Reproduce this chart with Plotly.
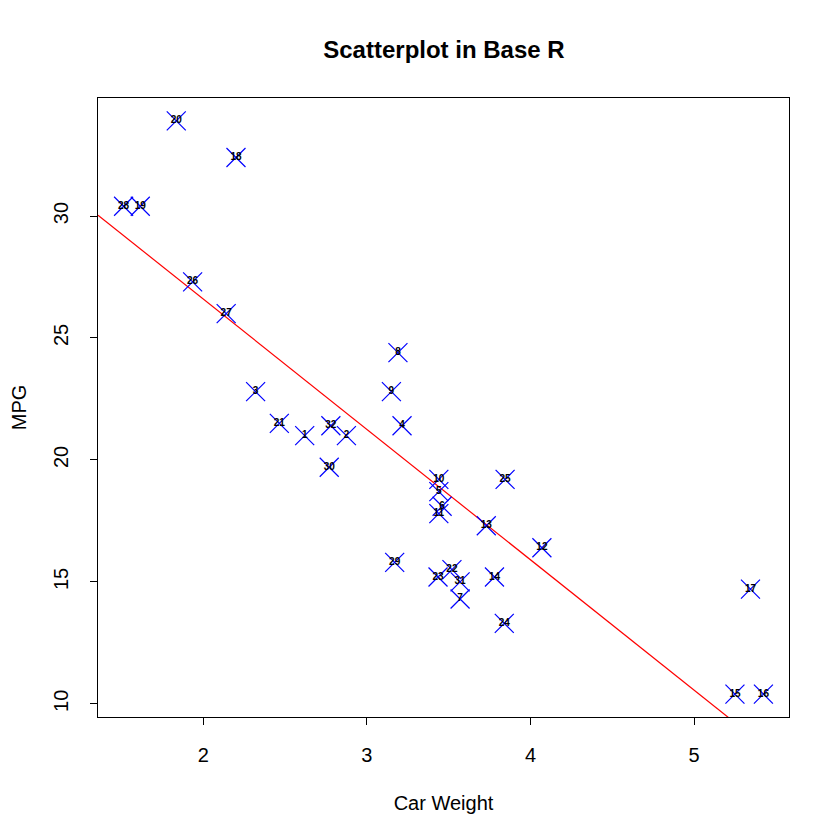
import numpy as np
import plotly.graph_objects as go

# mtcars: weight (1000 lbs) and miles per gallon, row numbers as labels
car_weight = [2.620, 2.875, 2.320, 3.215, 3.440, 3.460, 3.570, 3.190, 3.150, 3.440,
              3.440, 4.070, 3.730, 3.780, 5.250, 5.424, 5.345, 2.200, 1.615, 1.835,
              2.465, 3.520, 3.435, 3.840, 3.845, 1.935, 2.140, 1.513, 3.170, 2.770,
              3.570, 2.780]
mpg = [21.0, 21.0, 22.8, 21.4, 18.7, 18.1, 14.3, 24.4, 22.8, 19.2,
       17.8, 16.4, 17.3, 15.2, 10.4, 10.4, 14.7, 32.4, 30.4, 33.9,
       21.5, 15.5, 15.2, 13.3, 19.2, 27.3, 26.0, 30.4, 15.8, 19.7,
       15.0, 21.4]
labels = [str(i + 1) for i in range(len(mpg))]

x_ticks = [2, 3, 4, 5]
y_ticks = [10, 15, 20, 25, 30]

# R-style axis limits: data range padded by 4% on each side
def r_range(v):
    lo, hi = min(v), max(v)
    pad = (hi - lo) * 0.04
    return [lo - pad, hi + pad]

x_range = r_range(car_weight)
y_range = r_range(mpg)

# abline(lm(mpg ~ wt))
slope, intercept = np.polyfit(car_weight, mpg, 1)
line_x = np.array(x_range)
line_y = intercept + slope * line_x

fig = go.Figure()

fig.add_trace(go.Scatter(
    x=line_x, y=line_y, mode='lines',
    line=dict(color='red', width=1.2),
    hoverinfo='skip', showlegend=False))

fig.add_trace(go.Scatter(
    x=car_weight, y=mpg, mode='markers+text',
    text=labels, textposition='middle center',
    textfont=dict(family='Liberation Sans', size=10, color='black', weight='bold'),
    marker=dict(symbol='x-thin-open', size=19, color='blue',
                line=dict(color='blue', width=1.2)),
    showlegend=False))

axis_style = dict(showline=True, linecolor='black', linewidth=1, mirror=True,
                  ticks='outside', ticklen=7, tickcolor='black', showgrid=False,
                  zeroline=False, tickfont=dict(size=20, color='black'))

fig.update_xaxes(range=x_range, tickmode='array', tickvals=x_ticks, ticklabelstandoff=13,
                 title=dict(text='Car Weight', font=dict(size=20, color='black'), standoff=30),
                 **axis_style)
fig.update_yaxes(range=y_range, tickmode='array', tickvals=y_ticks, tickangle=-90,
                 ticklabelstandoff=14,
                 title=dict(text='MPG', font=dict(size=20, color='black'), standoff=24),
                 **axis_style)

# page body adds an 8px offset, so margins are shifted to compensate
fig.update_layout(
    width=840, height=840,
    margin=dict(l=90, r=59, t=90, b=131, autoexpand=False),
    paper_bgcolor='white', plot_bgcolor='white',
    font=dict(family='Liberation Sans'),
    title=dict(text='<b>Scatterplot in Base R</b>', x=0.519, xanchor='center',
               y=0.95, yanchor='middle', font=dict(size=24, color='black')))

fig.write_html('out.html')
